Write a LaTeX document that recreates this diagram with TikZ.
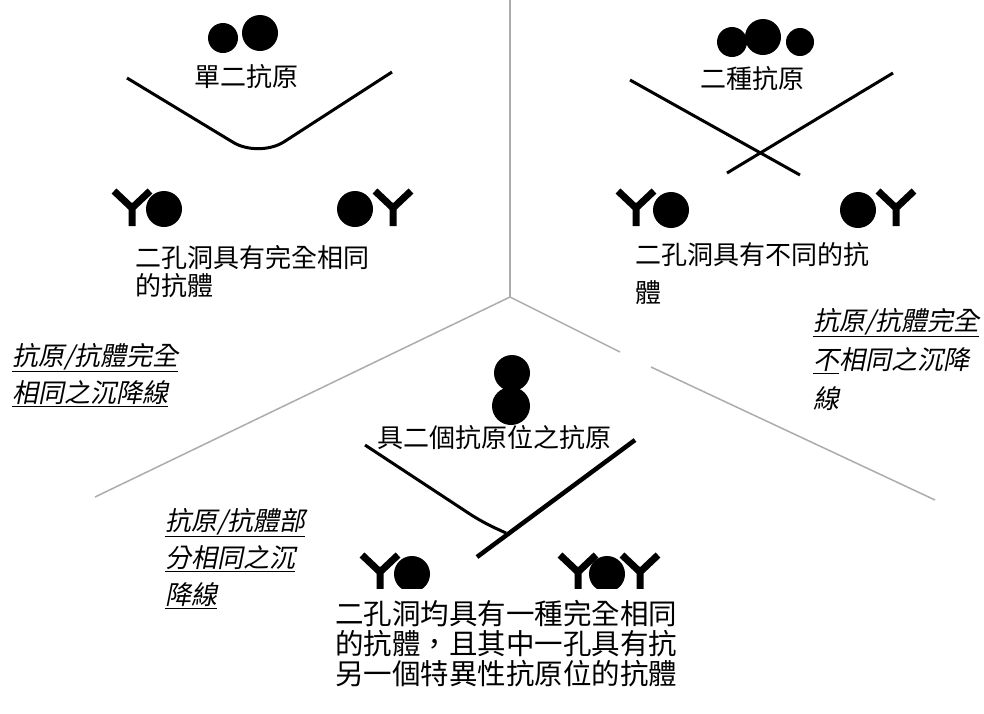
\documentclass[tikz,border=0pt]{standalone}
\usepackage{fontspec}
\newfontfamily\cjk{Noto Sans CJK TC}
\newfontfamily\cjkit{Noto Sans CJK TC}[FakeSlant=0.2]

\tikzset{
  divider/.style={gray!65, line width=1.5pt},
  precip/.style={line width=3pt},
  antigen/.style={fill=black},
  title/.style={font=\cjk\fontsize{26}{28}\selectfont, inner sep=0pt},
  desc/.style={font=\cjk\fontsize{26}{28}\selectfont, align=left, anchor=north west, inner sep=0pt},
  note/.style={font=\cjkit\fontsize{26}{37}\selectfont, align=left, anchor=north west, inner sep=0pt},
  antibody/.pic={\draw[line width=7pt] (-18,-17) -- (0,0) -- (18,-17) (0,0) -- (0,18);}
}

\begin{document}
\begin{tikzpicture}[x=1pt, y=-1pt]
  \useasboundingbox (0,0) rectangle (984,713);
  % three-way split of the plate
  \coordinate (hub) at (510,297);
  \draw[divider] (hub) -- (510,0);
  \draw[divider] (hub) -- (95,497);
  \draw[divider] (hub) -- (620,352);
  \draw[divider] (651,367) -- (935,500);

  % single antigen: one fused arc
  \fill[antigen] (223,38) circle (15) (260,33) circle (18);
  \node[title] (single) at (246,77) {單二抗原};
  \draw[precip, rounded corners=30pt] (127,78) -- (259,158) -- (392,72);
  \pic at (132,208) {antibody};
  \fill[antigen] (164,209) circle (18) (355,209) circle (18);
  \pic at (393,208) {antibody};
  \node[desc] (same) at (135,245) {二孔洞具有完全相同\\的抗體};
  \node[note] (idnote) at (12,343) {\underline{抗原/抗體完全}\\\underline{相同之沉降線}};

  % two antigens: crossing lines
  \fill[antigen] (732,42) circle (15) (763,37) circle (18) (800,42) circle (14);
  \node[title] (double) at (752,79) {二種抗原};
  \draw[precip] (630,80) -- (800,175);
  \draw[precip] (893,73) -- (727,173);
  \pic at (636,208) {antibody};
  \fill[antigen] (671,210) circle (18) (858,210) circle (18);
  \pic at (896,208) {antibody};
  \node[desc, font=\cjk\fontsize{26}{38}\selectfont] (differ) at (635,242) {二孔洞具有不同的抗\\體};
  \node[note, font=\cjkit\fontsize{26}{39}\selectfont] (nonnote) at (813,308)
    {\underline{抗原/抗體完全}\\\underline{不}相同之沉降\\線};

  % antigen with two epitopes: spur
  \fill[antigen] (512,373) circle (18) (511,406) circle (19);
  \node[title] (twosite) at (494,438) {具二個抗原位之抗原};
  \draw[precip, rounded corners=14pt] (365,445) -- (482,522) -- (506,533);
  \draw[precip, line width=4.5pt] (635,440) -- (477,557);
  \begin{scope}
    \clip (340,540) rectangle (680,588);
    \pic at (380,572) {antibody};
    \fill[antigen] (412,574) circle (18) (607,574) circle (18);
    \pic at (578,572) {antibody};
    \pic at (640,572) {antibody};
  \end{scope}
  \node[desc, font=\cjk\fontsize{28.5}{30}\selectfont] (partial) at (335,600)
    {二孔洞均具有一種完全相同\\的抗體，且其中一孔具有抗\\另一個特異性抗原位的抗體};
  \node[note] (partnote) at (165,508) {\underline{抗原/抗體部}\\\underline{分相同之沉}\\\underline{降線}};
\end{tikzpicture}
\end{document}
